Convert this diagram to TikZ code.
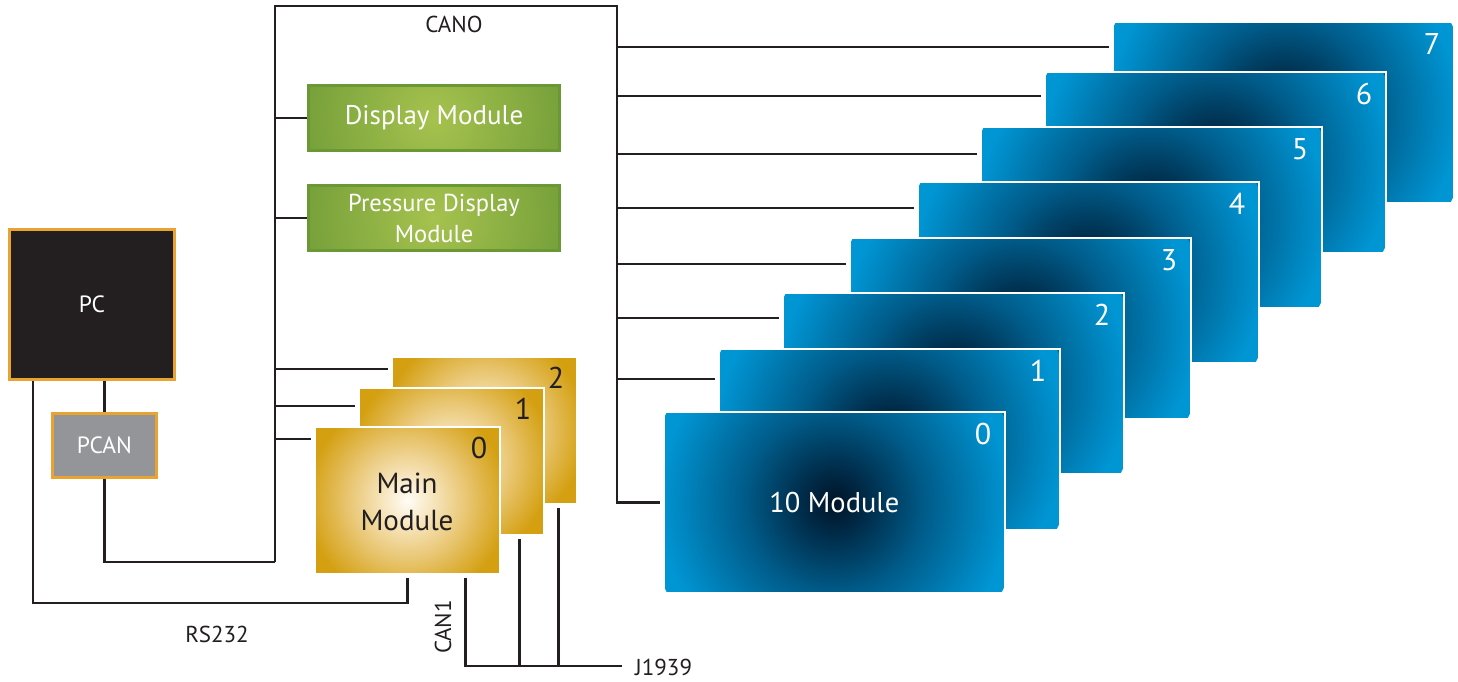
\documentclass[tikz,border=0pt]{standalone}
\usepackage{fontspec}
\setmainfont{PT Sans}
\usetikzlibrary{calc,positioning}

\definecolor{ink}{HTML}{231F20}
\definecolor{pcorange}{HTML}{E8A330}
\definecolor{pcangray}{HTML}{939598}
\definecolor{bluein}{HTML}{001326}
\definecolor{bluedeep}{HTML}{00304F}
\definecolor{bluemid}{HTML}{005C8A}
\definecolor{blueout}{HTML}{0095D3}
\definecolor{goldin}{HTML}{FFFDF7}
\definecolor{goldlight}{HTML}{F7E6C0}
\definecolor{goldmid}{HTML}{E8C570}
\definecolor{goldout}{HTML}{D4A012}
\definecolor{greenin}{HTML}{A6C24E}
\definecolor{greenout}{HTML}{76A03A}
\definecolor{greenline}{HTML}{6A9834}

\pgfdeclareradialshading{blueglow}{\pgfpoint{0bp}{0bp}}{color(0bp)=(bluein); color(5bp)=(bluedeep); color(12bp)=(bluemid); color(23bp)=(blueout); color(50bp)=(blueout)}
\pgfdeclareradialshading{goldglow}{\pgfpoint{0bp}{0bp}}{color(0bp)=(goldin); color(5bp)=(goldlight); color(12.5bp)=(goldmid); color(21bp)=(goldout); color(50bp)=(goldout)}
\pgfdeclareradialshading{greenglow}{\pgfpoint{0bp}{0bp}}{color(0bp)=(greenin); color(22bp)=(greenout); color(50bp)=(greenout)}

\begin{document}
\begin{tikzpicture}[x=1pt,y=-1pt,
  wire/.style={ink,line width=2.5pt},
  bustext/.style={text=ink,inner sep=0pt,font=\fontsize{23}{26}\selectfont},
  ionode/.style={draw=white,line width=1.5pt,minimum width=341pt,minimum height=181pt,inner sep=0pt,anchor=north west,
    path picture={\shade[shading=blueglow] (path picture bounding box.center) circle (190pt);}},
  mainnode/.style={draw=white,line width=1.5pt,minimum width=185pt,minimum height=147pt,inner sep=0pt,anchor=north west,
    path picture={\shade[shading=goldglow] (path picture bounding box.center) circle (120pt);}},
  dispnode/.style={draw=greenline,line width=3pt,minimum width=251pt,minimum height=65pt,inner sep=0pt,text=white,align=center,
    path picture={\shade[shading=greenglow] (path picture bounding box.center) circle (150pt);}},
  hostnode/.style={draw=pcorange,line width=3pt,text=white,inner sep=0pt,font=\fontsize{23.5}{26}\selectfont},
  boxnum/.style={anchor=north east,inner sep=0pt,font=\fontsize{30}{32}\selectfont}]
  \fill[white] (0,0) rectangle (1458,681);
  \useasboundingbox (0,0) rectangle (1458,681);

  % IO modules, back to front
  \foreach \i/\x/\y in {7/1112/21,6/1044/71,5/980/126,4/917/181,3/849/237,2/782/292,1/718/348,0/663/411}{
    \node[ionode] (io\i) at (\x,\y) {};
    \node[boxnum,text=white] (ionum\i) at ([xshift=-14pt,yshift=-12pt]io\i.north east) {\i};
  }
  \node[text=white,inner sep=0pt,font=\fontsize{28.5}{30}\selectfont] (iotitle) at (io0.center) {10 Module};

  % main modules, back to front
  \foreach \i/\x/\y in {2/391/356,1/358/387,0/314/426}{
    \node[mainnode] (main\i) at (\x,\y) {};
    \node[boxnum,text=ink] (mainnum\i) at ([xshift=-13pt,yshift=-11pt]main\i.north east) {\i};
  }
  \node[text=ink,inner sep=0pt,align=center,font=\fontsize{29}{37}\selectfont] (maintitle) at (407,502) {Main\\Module};

  \node[dispnode,font=\fontsize{27}{28}\selectfont] (disp) at (434,118) {Display Module};
  \node[dispnode,font=\fontsize{24.5}{31}\selectfont] (pdisp) at (434,218) {Pressure Display\\Module};

  \node[hostnode,fill=ink,minimum width=165pt,minimum height=150pt] (pc) at (92,304.5) {PC};
  \node[hostnode,fill=pcangray,minimum width=104pt,minimum height=64pt] (pcan) at (104.5,445.5) {PCAN};

  % CANO bus
  \coordinate (canoSW) at (275,562);
  \coordinate (canoNW) at (275,6);
  \coordinate (canoNE) at (617,6);
  \draw[wire,shorten >=3pt] (canoSW) -- (canoNW) -- (canoNE) |- (io0.west);
  \foreach \i/\y in {7/47,6/96,5/154,4/208,3/264,2/318,1/379}{
    \coordinate (tap\i) at (617,\y);
    \draw[wire,shorten >=3pt] (tap\i) -- (tap\i -| io\i.west);
  }
  \foreach \i/\y in {2/369,1/406,0/439}{
    \coordinate (mtap\i) at (275,\y);
    \draw[wire,shorten >=3pt] (mtap\i) -- (mtap\i -| main\i.west);
  }
  \draw[wire] (disp.west -| canoNW) -- (disp.west);
  \draw[wire] (pdisp.west -| canoNW) -- (pdisp.west);
  \node[bustext] (cano) at (454,24) {CANO};

  \draw[wire] (pcan.north) -- (pcan.north |- pc.south);
  \draw[wire] (pcan.south) |- (canoSW);

  % RS232
  \coordinate (rsbend) at (33,603);
  \draw[wire,shorten >=3pt] (pc.south -| rsbend) -- (rsbend) -| (main0.south);
  \node[bustext] (rs232) at (217,634) {RS232};

  % J1939
  \coordinate (jend) at (622,666);
  \draw[wire,shorten <=3pt] ([xshift=-35pt]main0.south east) |- (jend);
  \draw[wire,shorten <=3pt] ([xshift=-25pt]main1.south east) -- ([xshift=-25pt]main1.south east |- jend);
  \draw[wire,shorten <=3pt] ([xshift=-19pt]main2.south east) -- ([xshift=-19pt]main2.south east |- jend);
  \node[bustext,rotate=90] (can1) at (443,627) {CAN1};
  \node[bustext,anchor=west] (j1939) at (635,667) {J1939};
\end{tikzpicture}
\end{document}
